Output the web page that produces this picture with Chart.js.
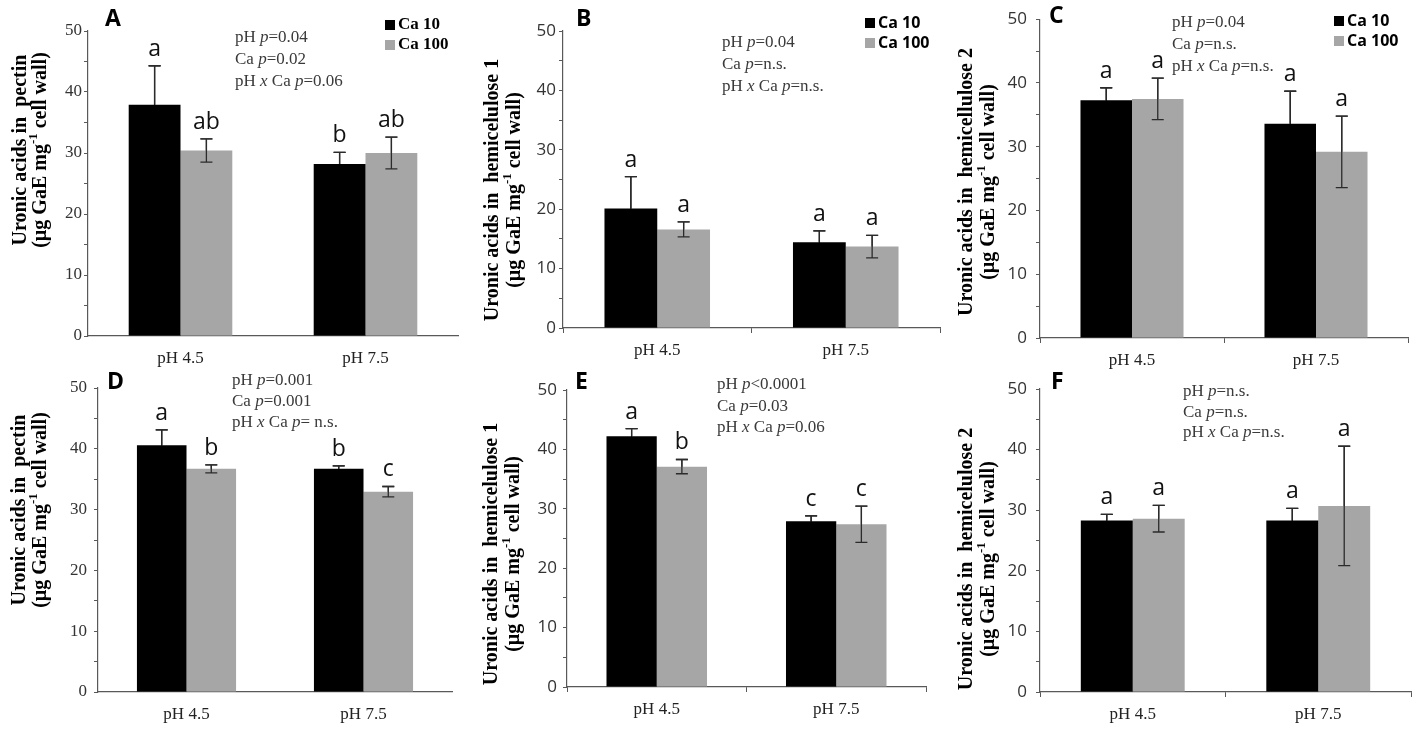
<!DOCTYPE html>
<html>
<head>
<meta charset="utf-8">
<script src="https://cdn.jsdelivr.net/npm/chart.js@4.4.1/dist/chart.umd.min.js"></script>
<style>
body { margin: 0; background: #fff; width: 1417px; height: 730px; position: relative; overflow: hidden; }
canvas { position: absolute; }
</style>
</head>
<body>
<canvas id="chartA" width="465" height="374" style="left:0px;top:0px"></canvas>
<canvas id="chartB" width="480" height="374" style="left:465px;top:0px"></canvas>
<canvas id="chartC" width="472" height="374" style="left:945px;top:0px"></canvas>
<canvas id="chartD" width="465" height="365" style="left:0px;top:365px"></canvas>
<canvas id="chartE" width="480" height="365" style="left:465px;top:365px"></canvas>
<canvas id="chartF" width="472" height="365" style="left:945px;top:365px"></canvas>
<script>
// data
var categories = ["pH 4.5", "pH 7.5"];
var seriesLabels = ["Ca 10", "Ca 100"];
var yTickLabels = [0, 10, 20, 30, 40, 50];

// A - pectin
var pectinA10 = [37.9, 28.2];
var pectinA10err = [6.4, 1.9];
var pectinA100 = [30.4, 30.0];
var pectinA100err = [1.9, 2.6];
var lettersA10 = ["a", "b"];
var lettersA100 = ["ab", "ab"];
var statsA = ["pH *p*=0.04", "Ca *p*=0.02", "pH *x* Ca *p*=0.06"];

// B - hemicellulose 1
var hemi1B10 = [20.1, 14.45];
var hemi1B10err = [5.4, 1.9];
var hemi1B100 = [16.6, 13.7];
var hemi1B100err = [1.25, 1.9];
var lettersB10 = ["a", "a"];
var lettersB100 = ["a", "a"];
var statsB = ["pH *p*=0.04", "Ca *p*=n.s.", "pH *x* Ca *p*=n.s."];

// C - hemicellulose 2
var hemi2C10 = [37.3, 33.6];
var hemi2C10err = [1.95, 5.1];
var hemi2C100 = [37.5, 29.2];
var hemi2C100err = [3.25, 5.6];
var lettersC10 = ["a", "a"];
var lettersC100 = ["a", "a"];
var statsC = ["pH *p*=0.04", "Ca *p*=n.s.", "pH *x* Ca *p*=n.s."];

// D - pectin
var pectinD10 = [40.6, 36.7];
var pectinD10err = [2.5, 0.5];
var pectinD100 = [36.7, 32.95];
var pectinD100err = [0.65, 0.85];
var lettersD10 = ["a", "b"];
var lettersD100 = ["b", "c"];
var statsD = ["pH *p*=0.001", "Ca *p*=0.001", "pH *x* Ca *p*= n.s."];

// E - hemicellulose 1
var hemi1E10 = [42.2, 27.9];
var hemi1E10err = [1.3, 0.9];
var hemi1E100 = [37.1, 27.4];
var hemi1E100err = [1.2, 3.05];
var lettersE10 = ["a", "c"];
var lettersE100 = ["b", "c"];
var statsE = ["pH *p*<0.0001", "Ca *p*=0.03", "pH *x* Ca *p*=0.06"];

// F - hemicellulose 2
var hemi2F10 = [28.3, 28.3];
var hemi2F10err = [1.0, 2.0];
var hemi2F100 = [28.6, 30.7];
var hemi2F100err = [2.2, 9.85];
var lettersF10 = ["a", "a"];
var lettersF100 = ["a", "a"];
var statsF = ["pH *p*=n.s.", "Ca *p*=n.s.", "pH *x* Ca *p*=n.s."];

var SERIF = '"Liberation Serif", "Times New Roman", serif';
var SANS = '"Open Sans", "Liberation Sans", sans-serif';
var BLACK = "#000000";
var GREY = "#a6a6a6";
var AXIS = "#595959";

// error bars, group letters, stats text, legend, panel letter, y title
var panelDecor = {
    id: "panelDecor",
    afterDatasetsDraw: function(chart) {
        var ctx = chart.ctx;
        var o = chart.options.plugins.panelDecor;
        var y = chart.scales.y;
        ctx.save();

        chart.data.datasets.forEach(function(ds, i) {
            var meta = chart.getDatasetMeta(i);
            meta.data.forEach(function(bar, j) {
                var v = ds.data[j], e = ds.errors[j];
                var top = y.getPixelForValue(v + e);
                var bot = y.getPixelForValue(v - e);
                ctx.strokeStyle = ds.errorColor;
                ctx.lineWidth = 1.3;
                ctx.beginPath();
                ctx.moveTo(bar.x, top); ctx.lineTo(bar.x, bot);
                ctx.moveTo(bar.x - 6, top); ctx.lineTo(bar.x + 6, top);
                ctx.moveTo(bar.x - 6, bot); ctx.lineTo(bar.x + 6, bot);
                ctx.stroke();
                // the part above the bar is always dark
                ctx.strokeStyle = "#2b2b2b";
                ctx.beginPath();
                ctx.moveTo(bar.x, top); ctx.lineTo(bar.x, y.getPixelForValue(v));
                ctx.moveTo(bar.x - 6, top); ctx.lineTo(bar.x + 6, top);
                ctx.stroke();
                ctx.fillStyle = "#111";
                ctx.font = "23px " + SANS;
                ctx.textAlign = "center";
                ctx.textBaseline = "alphabetic";
                ctx.fillText(ds.letters[j], bar.x, top - 10);
            });
        });

        // stats lines, *...* is italic
        ctx.textAlign = "left";
        ctx.textBaseline = "middle";
        ctx.fillStyle = "#3a3a3a";
        o.stats.forEach(function(line, k) {
            var parts = line.split("*");
            var x = o.statsX;
            var yy = o.statsY + k * o.statsGap;
            parts.forEach(function(p, n) {
                ctx.font = (n % 2 ? "italic " : "") + "17px " + SERIF;
                ctx.fillText(p, x, yy);
                x += ctx.measureText(p).width;
            });
        });

        // legend
        if (o.legend) {
            chart.data.datasets.forEach(function(ds, i) {
                var ly = o.legendY + i * o.legendGap;
                ctx.fillStyle = ds.backgroundColor;
                ctx.fillRect(o.legendX, ly - 5, 10, 10);
                ctx.fillStyle = "#000";
                ctx.font = o.legendFont;
                ctx.fillText(ds.label, o.legendX + 13, ly);
            });
        }

        // panel letter
        ctx.fillStyle = "#000";
        ctx.font = "bold 23px " + SANS;
        ctx.textBaseline = "alphabetic";
        ctx.fillText(o.panel, o.panelX, o.panelY);

        // y axis title, two lines with superscript
        ctx.translate(o.titleX1, o.titleY);
        ctx.rotate(-Math.PI / 2);
        ctx.textAlign = "center";
        ctx.textBaseline = "middle";
        ctx.font = "bold 20px " + SERIF;
        ctx.fillText(o.title, 0, 0);
        ctx.setTransform(1, 0, 0, 1, 0, 0);
        ctx.translate(o.titleX2, o.titleY);
        ctx.rotate(-Math.PI / 2);
        ctx.textAlign = "left";
        var seg1 = "(\u00b5g GaE mg", sup = "-1", seg2 = " cell wall)";
        ctx.font = "bold 20px " + SERIF;
        var w1 = ctx.measureText(seg1).width, w3 = ctx.measureText(seg2).width;
        ctx.font = "bold 13px " + SERIF;
        var w2 = ctx.measureText(sup).width;
        var sx = -(w1 + w2 + w3) / 2;
        ctx.font = "bold 20px " + SERIF;
        ctx.fillText(seg1, sx, 0);
        ctx.font = "bold 13px " + SERIF;
        ctx.fillText(sup, sx + w1, -7);
        ctx.font = "bold 20px " + SERIF;
        ctx.fillText(seg2, sx + w1 + w2, 0);
        ctx.restore();
    }
};

function makePanel(id, p) {
    var canvas = document.getElementById(id);
    return new Chart(canvas, {
        type: "bar",
        data: {
            labels: categories,
            datasets: [{
                label: seriesLabels[0],
                data: p.ca10,
                errors: p.ca10err,
                letters: p.letters10,
                errorColor: "#000",
                backgroundColor: BLACK
            }, {
                label: seriesLabels[1],
                data: p.ca100,
                errors: p.ca100err,
                letters: p.letters100,
                errorColor: "#2b2b2b",
                backgroundColor: GREY
            }]
        },
        options: {
            responsive: false,
            animation: false,
            devicePixelRatio: 1,
            categoryPercentage: 0.56,
            barPercentage: 1,
            layout: { padding: { top: p.top, right: canvas.width - p.right, left: 0, bottom: 0 } },
            plugins: {
                legend: { display: false },
                tooltip: { enabled: false },
                panelDecor: {
                    panel: p.panel, panelX: p.panelX, panelY: p.panelY,
                    stats: p.stats, statsX: p.statsX, statsY: p.statsY, statsGap: p.statsGap,
                    legend: p.legend, legendX: p.legendX, legendY: p.legendY, legendGap: 20,
                    legendFont: p.legendFont,
                    title: p.title, titleX1: p.titleX1, titleX2: p.titleX2, titleY: p.titleY
                }
            },
            scales: {
                x: {
                    afterFit: function(scale) { scale.height = canvas.height - p.bottom; },
                    grid: {
                        drawOnChartArea: false,
                        drawTicks: true,
                        tickLength: 5,
                        tickColor: p.xTicks ? AXIS : "rgba(0,0,0,0)"
                    },
                    border: { color: AXIS, width: 1.2 },
                    ticks: { color: "#222", padding: 7, font: { family: SERIF, size: 17 } }
                },
                y: {
                    min: 0,
                    max: 50,
                    afterFit: function(scale) { scale.width = p.left; },
                    grid: { drawOnChartArea: false, drawTicks: true, tickLength: 4, tickColor: AXIS },
                    border: { color: AXIS, width: 1.2 },
                    ticks: {
                        stepSize: 5,
                        autoSkip: false,
                        padding: p.tickPad,
                        color: "#333",
                        font: { family: p.tickFont, size: 17 },
                        callback: function(v) { return yTickLabels.indexOf(v) >= 0 ? v : ""; }
                    }
                }
            }
        },
        plugins: [panelDecor]
    });
}

var legendSerif = "bold 17px " + SERIF;
var legendSans = "bold 16px " + SANS;

var chartA = makePanel("chartA", {
    ca10: pectinA10, ca10err: pectinA10err, ca100: pectinA100, ca100err: pectinA100err,
    letters10: lettersA10, letters100: lettersA100, stats: statsA,
    left: 88, right: 458, top: 31, bottom: 336, xTicks: false, tickPad: 2, tickFont: SERIF,
    panel: "A", panelX: 105, panelY: 26,
    statsX: 235, statsY: 38, statsGap: 22,
    legend: true, legendX: 385, legendY: 25, legendFont: legendSerif,
    title: "Uronic acids in  pectin", titleX1: 21, titleX2: 41, titleY: 150
});

var chartB = makePanel("chartB", {
    ca10: hemi1B10, ca10err: hemi1B10err, ca100: hemi1B100, ca100err: hemi1B100err,
    letters10: lettersB10, letters100: lettersB100, stats: statsB,
    left: 98, right: 475, top: 31, bottom: 328, xTicks: true, tickPad: 3, tickFont: SANS,
    panel: "B", panelX: 111, panelY: 26,
    statsX: 257, statsY: 43, statsGap: 22,
    legend: true, legendX: 400, legendY: 23, legendFont: legendSans,
    title: "Uronic acids in  hemicelulose 1", titleX1: 28, titleX2: 50, titleY: 190
});

var chartC = makePanel("chartC", {
    ca10: hemi2C10, ca10err: hemi2C10err, ca100: hemi2C100, ca100err: hemi2C100err,
    letters10: lettersC10, letters100: lettersC100, stats: statsC,
    left: 95, right: 463, top: 19, bottom: 338, xTicks: true, tickPad: 9, tickFont: SANS,
    panel: "C", panelX: 104, panelY: 23,
    statsX: 227, statsY: 23, statsGap: 22,
    legend: true, legendX: 389, legendY: 21, legendFont: legendSans,
    title: "Uronic acids in  hemicellulose 2", titleX1: 22, titleX2: 44, titleY: 182
});

var chartD = makePanel("chartD", {
    ca10: pectinD10, ca10err: pectinD10err, ca100: pectinD100, ca100err: pectinD100err,
    letters10: lettersD10, letters100: lettersD100, stats: statsD,
    left: 98, right: 452, top: 23, bottom: 327, xTicks: false, tickPad: 7, tickFont: SERIF,
    panel: "D", panelX: 107, panelY: 24,
    statsX: 232, statsY: 16, statsGap: 21,
    legend: false,
    title: "Uronic acids in  pectin", titleX1: 20, titleX2: 41, titleY: 145
});

var chartE = makePanel("chartE", {
    ca10: hemi1E10, ca10err: hemi1E10err, ca100: hemi1E100, ca100err: hemi1E100err,
    letters10: lettersE10, letters100: lettersE100, stats: statsE,
    left: 102, right: 461, top: 25, bottom: 322, xTicks: true, tickPad: 6, tickFont: SANS,
    panel: "E", panelX: 110, panelY: 24,
    statsX: 252, statsY: 20, statsGap: 21.5,
    legend: false,
    title: "Uronic acids in  hemicelulose 1", titleX1: 27, titleX2: 49, titleY: 189
});

var chartF = makePanel("chartF", {
    ca10: hemi2F10, ca10err: hemi2F10err, ca100: hemi2F100, ca100err: hemi2F100err,
    letters10: lettersF10, letters100: lettersF100, stats: statsF,
    left: 95, right: 466, top: 24, bottom: 327, xTicks: true, tickPad: 9, tickFont: SANS,
    panel: "F", panelX: 106, panelY: 24,
    statsX: 238, statsY: 27, statsGap: 20.5,
    legend: false,
    title: "Uronic acids in  hemicelulose 2", titleX1: 22, titleX2: 44, titleY: 194
});
</script>
</body>
</html>
